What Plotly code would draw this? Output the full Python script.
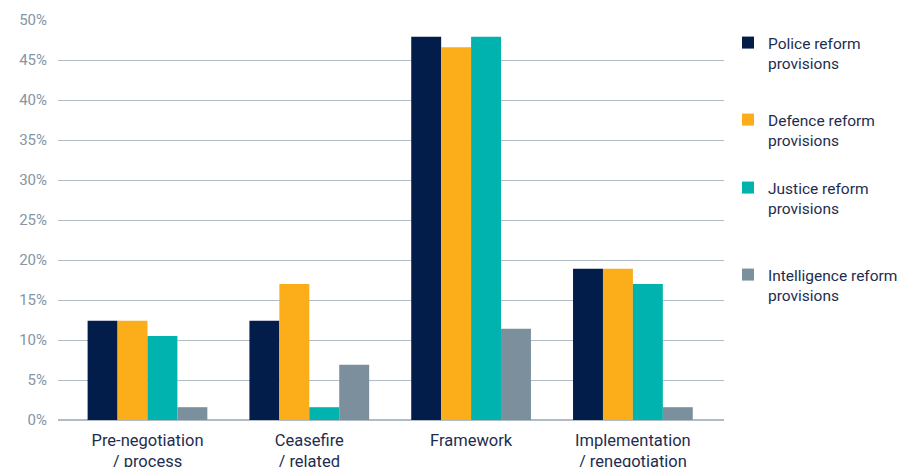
import plotly.graph_objects as go

categories = ["Pre-negotiation<br>/ process", "Ceasefire<br>/ related", "Framework", "Implementation<br>/ renegotiation"]
series_names = ["Police reform<br>provisions", "Defence reform<br>provisions", "Justice reform<br>provisions", "Intelligence reform<br>provisions"]
police = [12.4, 12.4, 47.9, 18.9]
defence = [12.4, 17.0, 46.6, 18.9]
justice = [10.5, 1.6, 47.9, 17.0]
intelligence = [1.6, 6.9, 11.4, 1.6]
colors = ["#021d49", "#fbad1a", "#00b3af", "#7b8f9c"]
tick_vals = [0, 5, 10, 15, 20, 25, 30, 35, 40, 45, 50]
tick_text = [f"{v}%" for v in tick_vals]

legend_ids = ["legend", "legend2", "legend3", "legend4"]
legend_y_px = [26, 103, 171, 258]

fig = go.Figure()
for name, vals, col, lid in zip(series_names, [police, defence, justice, intelligence], colors, legend_ids):
    fig.add_trace(go.Bar(x=categories, y=vals, name=name, marker_color=col,
                         marker_line_width=0, legend=lid))

H = 467
top, bottom = 20, 47
plot_h = H - top - bottom
leg_common = dict(font=dict(family="Roboto", size=15.5, color="#1e2d4f"), bgcolor="rgba(0,0,0,0)",
                  xanchor="left", yanchor="top", valign="top", itemwidth=30)
layout_legends = {}
for lid, ypx in zip(legend_ids, legend_y_px):
    layout_legends[lid] = dict(leg_common, x=1.006, xref="paper", y=1 - (ypx - top) / plot_h)

fig.update_layout(
    width=900, height=H,
    margin=dict(l=58, r=176, t=top, b=bottom, autoexpand=False),
    plot_bgcolor="white", paper_bgcolor="white",
    barmode="group", bargap=0.26, bargroupgap=0,
    showlegend=True,
    font=dict(family="Roboto", size=15, color="#1e2d4f"),
    xaxis=dict(range=[-0.553, 3.563], showgrid=False, showline=False, ticks="",
               automargin=False, ticklabelstandoff=8,
               tickfont=dict(size=16.5, color="#1e2d4f")),
    yaxis=dict(range=[0, 50], tickvals=tick_vals, ticktext=tick_text,
               showgrid=True, gridcolor="#b0bcc6", gridwidth=1.2,
               zeroline=True, zerolinecolor="#b0bcc6", zerolinewidth=1.5,
               showline=False, ticks="", ticklabelstandoff=10, automargin=False,
               tickfont=dict(size=15, color="#8595a3")),
    **layout_legends,
)

fig.write_html("out.html")
